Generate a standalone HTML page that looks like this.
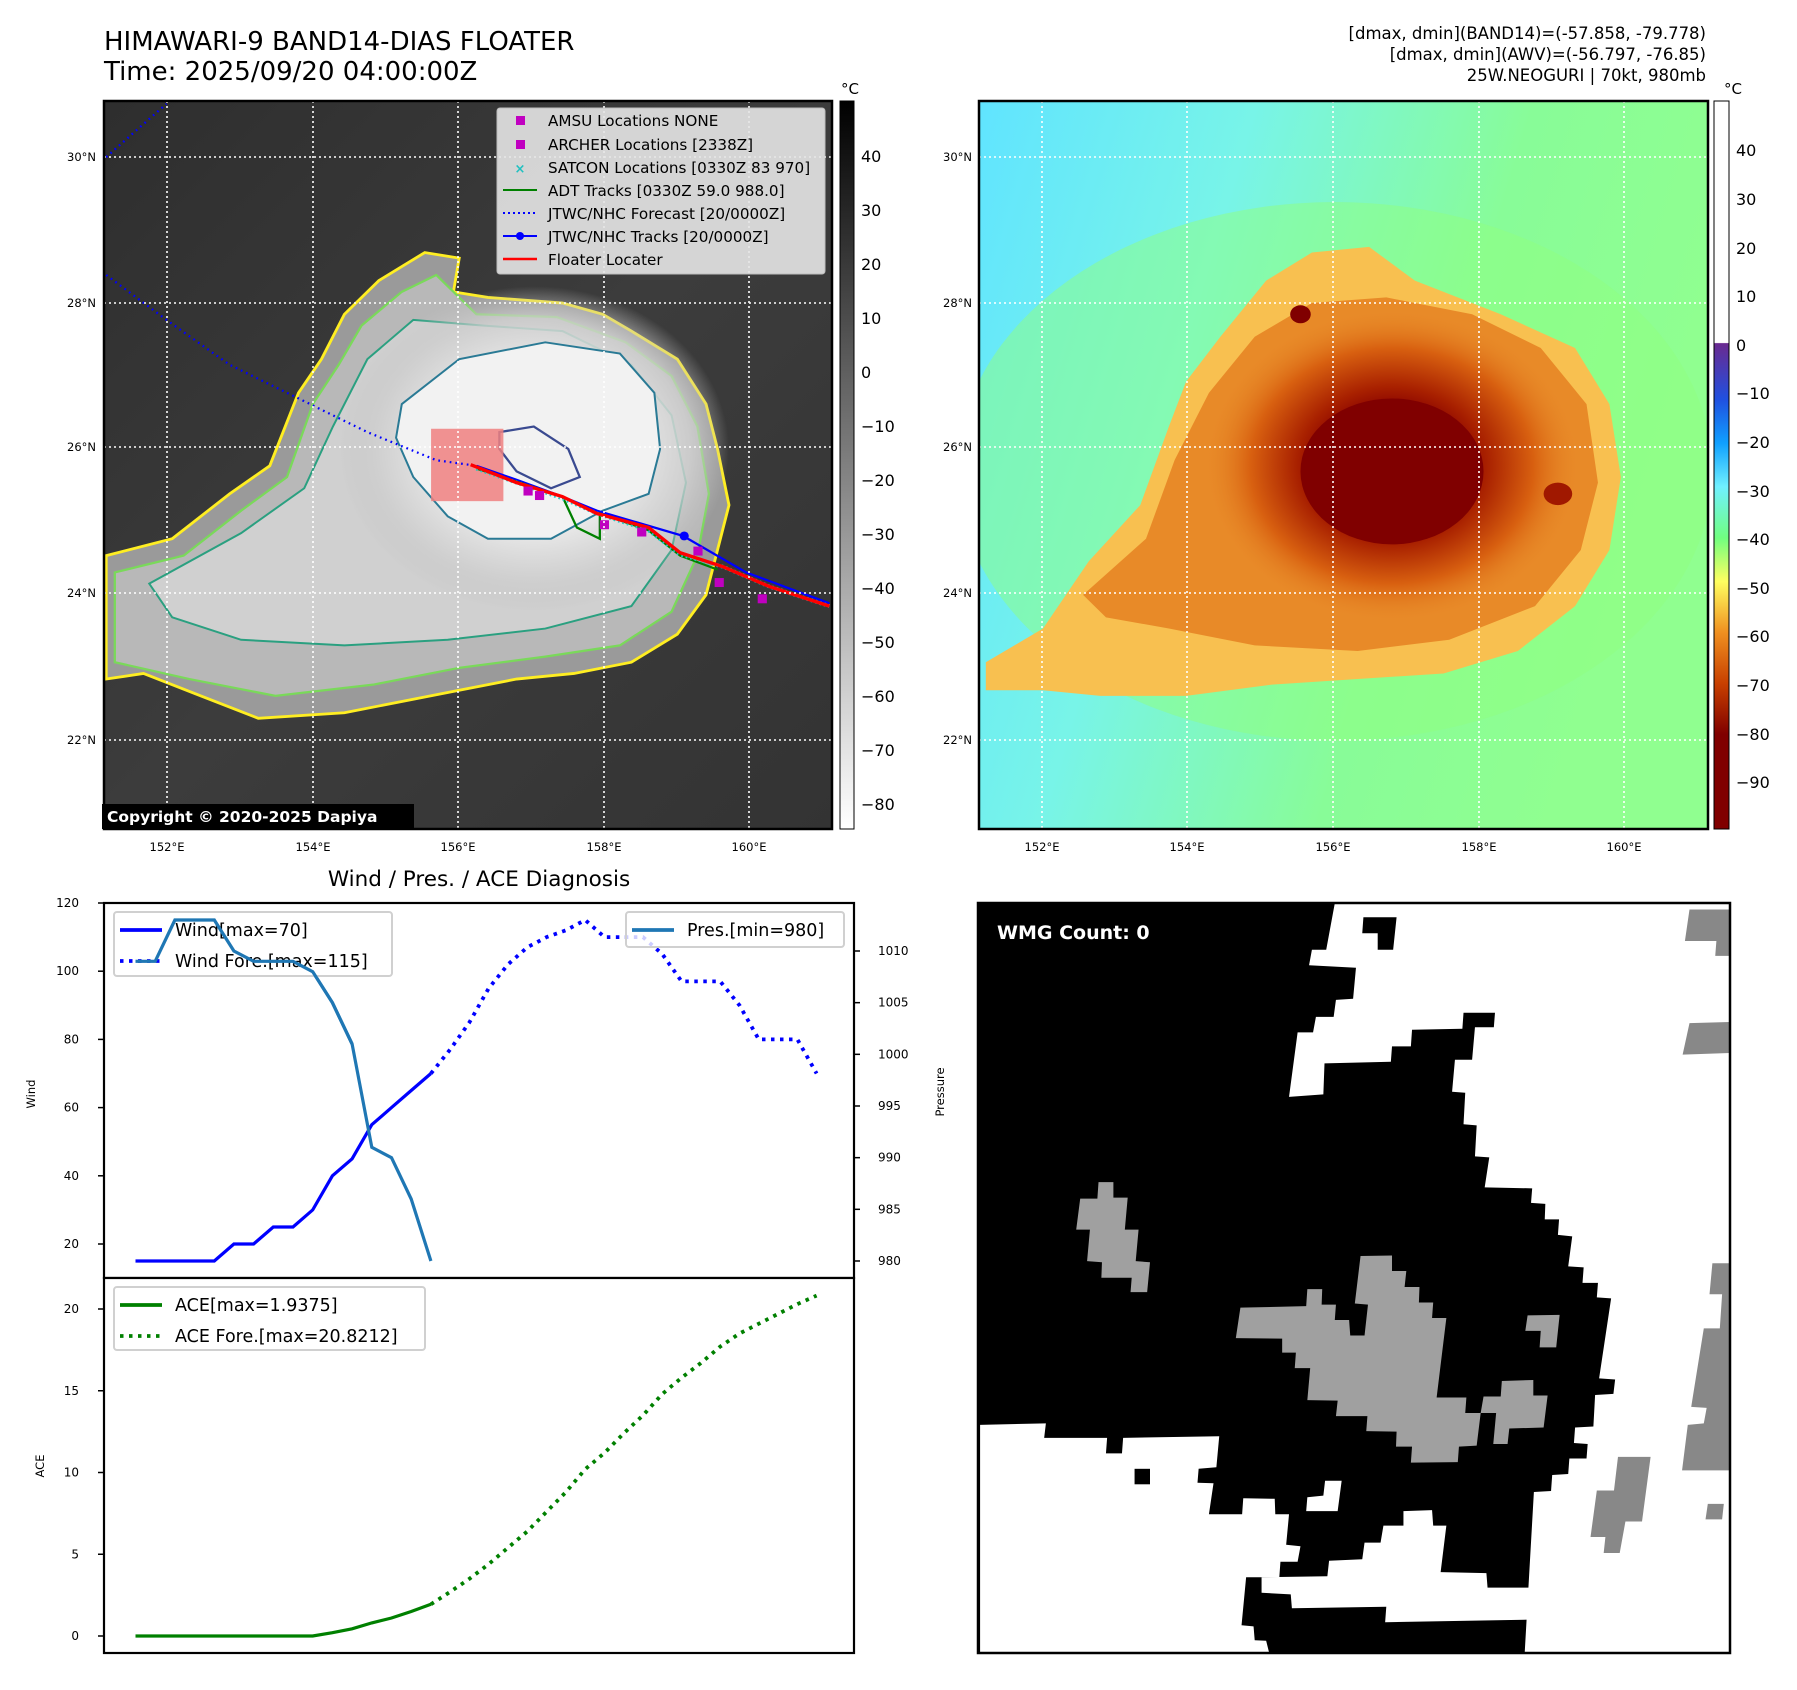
<!DOCTYPE html>
<html><head><meta charset="utf-8">
<style>
html,body{margin:0;padding:0;background:#fff;}
body{width:1797px;height:1690px;position:relative;overflow:hidden;font-family:"Liberation Sans","DejaVu Sans",sans-serif;}
svg{position:absolute;left:0;top:0;}
text{font-family:"DejaVu Sans","Liberation Sans",sans-serif;}
</style></head>
<body>
<svg id="root" width="1797" height="1690" viewBox="0 0 1797 1690">
<defs>
  <radialGradient id="irBlob" cx="0.5" cy="0.5" r="0.5">
    <stop offset="0" stop-color="#f6f6f6"/>
    <stop offset="0.5" stop-color="#eaeaea"/>
    <stop offset="0.8" stop-color="#d0d0d0" stop-opacity="0.8"/>
    <stop offset="1" stop-color="#c0c0c0" stop-opacity="0"/>
  </radialGradient>
  <linearGradient id="irBg" x1="0" y1="0" x2="1" y2="1">
    <stop offset="0" stop-color="#2e2e2e"/>
    <stop offset="0.5" stop-color="#3c3c3c"/>
    <stop offset="1" stop-color="#333"/>
  </linearGradient>
  <linearGradient id="cbGray" x1="0" y1="0" x2="0" y2="1">
    <stop offset="0" stop-color="#000"/>
    <stop offset="1" stop-color="#fff"/>
  </linearGradient>
  <linearGradient id="cbColor" x1="0" y1="0" x2="0" y2="1">
    <stop offset="0" stop-color="#fff"/>
    <stop offset="0.332" stop-color="#fff"/>
    <stop offset="0.333" stop-color="#6a2a90"/>
    <stop offset="0.41" stop-color="#2050e0"/>
    <stop offset="0.47" stop-color="#10a0ff"/>
    <stop offset="0.53" stop-color="#70f0ff"/>
    <stop offset="0.6" stop-color="#70ff80"/>
    <stop offset="0.66" stop-color="#ffff60"/>
    <stop offset="0.73" stop-color="#f09020"/>
    <stop offset="0.8" stop-color="#c84000"/>
    <stop offset="0.87" stop-color="#800000"/>
    <stop offset="1" stop-color="#800000"/>
  </linearGradient>
  <linearGradient id="awvBg" x1="0" y1="0" x2="1" y2="0.3">
    <stop offset="0" stop-color="#60e4ff"/>
    <stop offset="0.35" stop-color="#78f4e8"/>
    <stop offset="0.7" stop-color="#88fc98"/>
    <stop offset="1" stop-color="#90ff90"/>
  </linearGradient>
  <radialGradient id="awvBlob" cx="0.5" cy="0.5" r="0.5">
    <stop offset="0" stop-color="#7a0000"/>
    <stop offset="0.35" stop-color="#860000"/>
    <stop offset="0.5" stop-color="#a82000"/>
    <stop offset="0.75" stop-color="#d86010"/>
    <stop offset="1" stop-color="#e88a28" stop-opacity="0"/>
  </radialGradient>
  <clipPath id="clipL"><rect x="104" y="101" width="728" height="728"/></clipPath>
  <clipPath id="clipR"><rect x="979" y="101" width="729" height="728"/></clipPath>
  <clipPath id="clipW"><rect x="978" y="903" width="752" height="750"/></clipPath>
</defs>

<!-- ===== Titles ===== -->
<text x="104" y="50" font-size="26" fill="#000">HIMAWARI-9 BAND14-DIAS FLOATER</text>
<text x="104" y="80" font-size="26" fill="#000">Time: 2025/09/20 04:00:00Z</text>
<text x="1706" y="39" font-size="16.5" text-anchor="end">[dmax, dmin](BAND14)=(-57.858, -79.778)</text>
<text x="1706" y="60" font-size="16.5" text-anchor="end">[dmax, dmin](AWV)=(-56.797, -76.85)</text>
<text x="1706" y="81" font-size="16.5" text-anchor="end">25W.NEOGURI | 70kt, 980mb</text>

<!-- ===== Left IR map ===== -->
<g clip-path="url(#clipL)">
  <rect x="104" y="101" width="728" height="728" fill="url(#irBg)"/>
  <g transform="scale(0.574,0.5612)">
    <path d="M185,990 L300,960 L400,880 L470,830 L520,700 L560,640 L600,560 L660,500 L740,450 L800,460 L790,520 L850,530 L980,540 L1050,560 L1100,590 L1180,640 L1230,720 L1250,800 L1270,900 L1250,980 L1230,1060 L1180,1130 L1100,1180 L1000,1200 L900,1210 L800,1230 L700,1250 L600,1270 L450,1280 L350,1240 L250,1200 L185,1210 Z" fill="#9a9a9a" stroke="#ffee22" stroke-width="5"/>
    <path d="M200,1020 L320,990 L420,910 L500,850 L545,720 L590,650 L630,580 L700,520 L760,490 L830,560 L970,565 L1090,610 L1170,670 L1215,760 L1235,880 L1215,990 L1170,1090 L1080,1150 L950,1170 L800,1190 L650,1220 L480,1240 L330,1210 L200,1180 Z" fill="#b8b8b8" stroke="#7ad95a" stroke-width="4"/>
    <path d="M260,1040 L420,950 L530,870 L580,760 L640,640 L720,570 L840,580 L980,590 L1100,650 L1170,740 L1195,860 L1170,980 L1100,1080 L950,1120 L780,1140 L600,1150 L420,1140 L300,1100 Z" fill="#d0d0d0" stroke="#2aa080" stroke-width="3.5"/>
    <ellipse cx="930" cy="800" rx="340" ry="290" fill="url(#irBlob)"/>
    <path d="M690,780 L700,720 L800,640 L950,610 L1080,630 L1140,700 L1150,800 L1130,880 L1050,910 L960,960 L850,960 L780,920 L720,850 Z" fill="#f2f2f2" stroke="#2a7a95" stroke-width="3.5"/>
    <path d="M870,770 L930,760 L990,800 L1010,850 L960,870 L900,840 L870,800 Z" fill="none" stroke="#3a4a90" stroke-width="4"/>
    <rect x="751" y="764" width="126" height="129" fill="#f08080" opacity="0.85"/>
    <polyline points="185,280 240,230 290,185" fill="none" stroke="#0000ff" stroke-width="4" stroke-dasharray="3,7"/>
    <polyline points="185,490 290,570 400,650 530,715 640,770 760,820 830,830" fill="none" stroke="#0000ff" stroke-width="4" stroke-dasharray="3,7"/>
    <polyline points="830,830 900,855 980,885 1040,910 1190,955 1300,1020 1445,1075" fill="none" stroke="#0000ff" stroke-width="4"/>
    <circle cx="1192" cy="955" r="8" fill="#0000ff"/>
    <polyline points="830,835 900,858 980,885 1005,940 1045,960 1045,915 1130,945 1185,990 1250,1015" fill="none" stroke="#008000" stroke-width="4"/>
    <polyline points="830,835 900,860 980,888 1040,915 1130,945 1185,988 1260,1010 1340,1045 1445,1080" fill="none" stroke="#20c8c8" stroke-width="7" stroke-dasharray="3,5"/>
    <polyline points="820,828 900,860 980,885 1040,915 1130,940 1185,985 1260,1010 1340,1045 1445,1080" fill="none" stroke="#ff0000" stroke-width="6"/>
    <g fill="#c000c0">
      <rect x="912" y="867" width="16" height="16"/><rect x="932" y="875" width="16" height="16"/>
      <rect x="1045" y="927" width="16" height="16"/><rect x="1110" y="940" width="16" height="16"/>
      <rect x="1208" y="974" width="16" height="16"/><rect x="1245" y="1030" width="16" height="16"/>
      <rect x="1320" y="1059" width="16" height="16"/>
    </g>
  </g>
  <g stroke="#fff" stroke-width="1.6" stroke-dasharray="2,3">
    <line x1="167" y1="101" x2="167" y2="829"/><line x1="313" y1="101" x2="313" y2="829"/>
    <line x1="458" y1="101" x2="458" y2="829"/><line x1="604" y1="101" x2="604" y2="829"/>
    <line x1="749" y1="101" x2="749" y2="829"/>
    <line x1="104" y1="157" x2="832" y2="157"/><line x1="104" y1="303" x2="832" y2="303"/>
    <line x1="104" y1="447" x2="832" y2="447"/><line x1="104" y1="593" x2="832" y2="593"/>
    <line x1="104" y1="740" x2="832" y2="740"/>
  </g>
</g>
<rect x="104" y="101" width="728" height="728" fill="none" stroke="#000" stroke-width="2.5"/>

<!-- legend on IR map -->
<g>
  <rect x="497" y="108" width="328" height="166" rx="3" fill="#e6e6e6" opacity="0.9" stroke="#ccc"/>
  <rect x="516" y="116" width="9" height="9" fill="#c000c0"/>
  <text x="548" y="126" font-size="15.2">AMSU Locations NONE</text>
  <rect x="516" y="140" width="9" height="9" fill="#c000c0"/>
  <text x="548" y="150" font-size="15.2">ARCHER Locations [2338Z]</text>
  <text x="520" y="173" font-size="13" fill="#20c0c0" text-anchor="middle" font-weight="bold">×</text>
  <text x="548" y="173" font-size="15.2">SATCON Locations [0330Z 83 970]</text>
  <line x1="503" y1="190" x2="537" y2="190" stroke="#008000" stroke-width="2"/>
  <text x="548" y="196" font-size="15.2">ADT Tracks [0330Z 59.0 988.0]</text>
  <line x1="503" y1="213" x2="537" y2="213" stroke="#0000ff" stroke-width="2" stroke-dasharray="2,3"/>
  <text x="548" y="219" font-size="15.2">JTWC/NHC Forecast [20/0000Z]</text>
  <line x1="503" y1="236" x2="537" y2="236" stroke="#0000ff" stroke-width="2"/>
  <circle cx="520" cy="236" r="4" fill="#0000ff"/>
  <text x="548" y="242" font-size="15.2">JTWC/NHC Tracks [20/0000Z]</text>
  <line x1="503" y1="259" x2="537" y2="259" stroke="#ff0000" stroke-width="2.5"/>
  <text x="548" y="265" font-size="15.2">Floater Locater</text>
</g>
<rect x="102" y="804" width="312" height="25" fill="#000"/>
<text x="107" y="822" font-size="15.5" font-weight="bold" fill="#fff">Copyright © 2020-2025 Dapiya</text>

<!-- left map ticks -->
<g font-size="11.5" fill="#000">
  <text x="96" y="161" text-anchor="end">30°N</text><text x="96" y="307" text-anchor="end">28°N</text>
  <text x="96" y="451" text-anchor="end">26°N</text><text x="96" y="597" text-anchor="end">24°N</text>
  <text x="96" y="744" text-anchor="end">22°N</text>
  <text x="167" y="851" text-anchor="middle">152°E</text><text x="313" y="851" text-anchor="middle">154°E</text>
  <text x="458" y="851" text-anchor="middle">156°E</text><text x="604" y="851" text-anchor="middle">158°E</text>
  <text x="749" y="851" text-anchor="middle">160°E</text>
</g>
<!-- left colorbar -->
<g>
  <rect x="840" y="101" width="14" height="728" fill="url(#cbGray)" stroke="#000" stroke-width="1"/>
  <text x="850" y="94" font-size="15" text-anchor="middle">°C</text>
  <g font-size="16" fill="#000">
    <text x="861" y="162">40</text><text x="861" y="216">30</text><text x="861" y="270">20</text>
    <text x="861" y="324">10</text><text x="861" y="378">0</text><text x="861" y="432">−10</text>
    <text x="861" y="486">−20</text><text x="861" y="540">−30</text><text x="861" y="594">−40</text>
    <text x="861" y="648">−50</text><text x="861" y="702">−60</text><text x="861" y="756">−70</text>
    <text x="861" y="810">−80</text>
  </g>
</g>

<!-- ===== Right AWV map ===== -->
<g clip-path="url(#clipR)">
  <rect x="979" y="101" width="729" height="728" fill="url(#awvBg)"/>
  <g transform="translate(900,0) scale(0.5721,0.5612)">
    <ellipse cx="760" cy="840" rx="660" ry="480" fill="#90ff80" opacity="0.5"/>
    <path d="M150,1180 L250,1120 L330,1000 L420,900 L470,760 L500,680 L560,600 L640,500 L720,450 L820,440 L900,500 L1050,560 L1180,620 L1240,720 L1260,850 L1240,980 L1180,1080 L1080,1160 L950,1200 L800,1210 L650,1220 L500,1240 L350,1240 L250,1230 L150,1230 Z" fill="#f8c050"/>
    <path d="M320,1060 L430,960 L480,820 L540,700 L620,600 L720,540 L850,530 L1000,560 L1120,620 L1200,720 L1220,860 L1190,980 L1110,1080 L960,1140 L800,1160 L620,1150 L470,1120 L360,1100 Z" fill="#e88a28"/>
    <ellipse cx="860" cy="830" rx="330" ry="280" fill="url(#awvBlob)"/>
    <ellipse cx="860" cy="840" rx="160" ry="130" fill="#800000"/>
    <ellipse cx="700" cy="560" rx="18" ry="16" fill="#800000"/>
    <ellipse cx="1150" cy="880" rx="25" ry="20" fill="#a01800"/>
  </g>
  <g stroke="#fff" stroke-width="1.6" stroke-dasharray="2,3">
    <line x1="1042" y1="101" x2="1042" y2="829"/><line x1="1187" y1="101" x2="1187" y2="829"/>
    <line x1="1333" y1="101" x2="1333" y2="829"/><line x1="1479" y1="101" x2="1479" y2="829"/>
    <line x1="1624" y1="101" x2="1624" y2="829"/>
    <line x1="979" y1="157" x2="1708" y2="157"/><line x1="979" y1="303" x2="1708" y2="303"/>
    <line x1="979" y1="447" x2="1708" y2="447"/><line x1="979" y1="593" x2="1708" y2="593"/>
    <line x1="979" y1="740" x2="1708" y2="740"/>
  </g>
</g>
<rect x="979" y="101" width="729" height="728" fill="none" stroke="#000" stroke-width="2.5"/>
<g font-size="11.5" fill="#000">
  <text x="972" y="161" text-anchor="end">30°N</text><text x="972" y="307" text-anchor="end">28°N</text>
  <text x="972" y="451" text-anchor="end">26°N</text><text x="972" y="597" text-anchor="end">24°N</text>
  <text x="972" y="744" text-anchor="end">22°N</text>
  <text x="1042" y="851" text-anchor="middle">152°E</text><text x="1187" y="851" text-anchor="middle">154°E</text>
  <text x="1333" y="851" text-anchor="middle">156°E</text><text x="1479" y="851" text-anchor="middle">158°E</text>
  <text x="1624" y="851" text-anchor="middle">160°E</text>
</g>
<g>
  <rect x="1714" y="101" width="15" height="728" fill="url(#cbColor)" stroke="#000" stroke-width="1"/>
  <text x="1733" y="94" font-size="15" text-anchor="middle">°C</text>
  <g font-size="16" fill="#000">
    <text x="1736" y="156">40</text><text x="1736" y="205">30</text><text x="1736" y="254">20</text>
    <text x="1736" y="302">10</text><text x="1736" y="351">0</text><text x="1736" y="399">−10</text>
    <text x="1736" y="448">−20</text><text x="1736" y="497">−30</text><text x="1736" y="545">−40</text>
    <text x="1736" y="594">−50</text><text x="1736" y="642">−60</text><text x="1736" y="691">−70</text>
    <text x="1736" y="740">−80</text><text x="1736" y="788">−90</text>
  </g>
</g>

<!-- ===== WMG panel ===== -->
<g clip-path="url(#clipW)">
  <rect x="978" y="903" width="752" height="750" fill="#000"/>
  <g transform="translate(900,880) scale(0.5721,0.5165)">
    <polygon fill="#fff" points="760,45 1450,45 1450,1495 1092,1495 1108,1185 1138,1183 1140,1152 1168,1150 1170,1120 1200,1120 1202,1092 1178,1090 1180,1060 1212,1058 1215,997 1247,995 1250,967 1222,965 1243,810 1218,808 1220,780 1193,780 1195,750 1168,748 1175,690 1150,687 1152,657 1127,657 1128,627 1103,625 1105,597 1022,595 1030,537 1005,535 1008,475 985,473 988,412 965,410 970,348 1000,348 1005,285 1038,285 1040,257 985,257 983,288 895,290 893,322 860,322 858,352 742,355 740,415 680,420 695,295 722,295 727,265 758,265 762,232 792,230 797,170 715,165 720,135 745,135"/>
    <polygon fill="#000" points="810,72 868,72 862,135 835,135 835,103 808,103"/>
    <polygon fill="#fff" points="140,1055 255,1052 252,1080 362,1080 360,1110 388,1110 390,1080 558,1077 553,1137 522,1140 520,1167 548,1168 540,1228 598,1228 600,1197 655,1198 656,1228 680,1228 675,1287 700,1290 695,1320 665,1320 663,1350 605,1350 597,1443 618,1445 620,1472 640,1473 645,1495 140,1495"/>
    <polygon fill="#fff" points="632,1350 747,1348 750,1318 808,1315 812,1283 840,1283 845,1250 880,1250 880,1222 930,1220 932,1250 955,1250 945,1340 1025,1342 1027,1370 1055,1370 1100,1370 1100,1432 848,1437 850,1407 685,1410 683,1383 632,1380"/>
    <polygon fill="#000" points="410,1140 437,1140 437,1170 410,1170"/>
    <polygon fill="#fff" points="712,1195 740,1192 743,1163 772,1163 765,1222 710,1222"/>
    <g fill="#a0a0a0">
      <polygon points="347,585 373,585 373,615 398,615 393,677 417,677 412,738 437,740 432,798 403,798 405,770 352,770 353,740 327,738 332,677 308,677 315,617 345,617"/>
      <polygon points="595,828 710,825 712,792 738,792 737,822 762,822 760,852 785,852 787,882 812,882 818,822 795,820 805,728 860,727 860,757 885,757 882,788 908,788 907,818 932,818 930,848 955,848 938,1002 990,1002 988,1032 1015,1032 1008,1095 977,1097 975,1127 893,1128 895,1097 867,1097 868,1068 815,1067 817,1038 762,1038 765,1008 712,1007 717,945 690,945 692,915 668,915 668,888 587,887"/>
      <polygon points="1020,1000 1050,1000 1052,970 1107,968 1107,998 1132,998 1125,1060 1065,1062 1062,1092 1037,1092 1042,1032 1015,1032"/>
      <polygon points="1097,843 1153,842 1147,905 1118,905 1120,873 1093,873"/>
    </g>
    <g fill="#888">
      <polygon points="1380,57 1450,57 1450,147 1425,147 1427,118 1372,118"/>
      <polygon points="1380,277 1450,275 1450,335 1368,338"/>
      <polygon points="1420,742 1450,742 1450,1143 1367,1143 1377,1055 1405,1052 1410,1022 1383,1020 1405,868 1433,868 1437,802 1415,802"/>
      <polygon points="1255,1117 1312,1117 1297,1242 1268,1242 1258,1303 1230,1303 1233,1272 1207,1272 1218,1182 1248,1182"/>
      <polygon points="1412,1208 1440,1208 1437,1238 1408,1238"/>
    </g>
  </g>
</g>
<rect x="978" y="903" width="752" height="750" fill="none" stroke="#000" stroke-width="2.5"/>
<text x="997" y="939" font-size="19" font-weight="bold" fill="#fff">WMG Count: 0</text>

<!-- ===== Diagnosis chart ===== -->
<text x="479" y="886" font-size="21.5" text-anchor="middle">Wind / Pres. / ACE Diagnosis</text>
<g id="chart"></g>
</svg>

<script>
// ---- data ----
const windObs = [15,15,15,15,15,20,20,25,25,30,40,45,55,60,65,70];
const windFore = [70,77,85,95,102,107,110,112,115,110,110,110,105,97,97,97,90,80,80,80,70];
const presObs = [1009,1009,1013,1013,1013,1010,1009,1009,1009,1008,1005,1001,991,990,986,980];
const aceObs = [0,0,0,0,0,0,0,0,0,0,0.2,0.44,0.8,1.1,1.5,1.9375];
const aceFore = [1.9375,2.7,3.5,4.4,5.4,6.4,7.6,8.8,10.2,11.2,12.4,13.5,14.8,15.8,16.7,17.7,18.5,19.1,19.7,20.3,20.8212];
const windTicks = [20,40,60,80,100,120];
const presTicks = [980,985,990,995,1000,1005,1010];
const aceTicks = [0,5,10,15,20];

// ---- axes ----
const X0 = 135.5, STEP_OBS = 19.69, STEP_FORE = 19.29;
function xObs(i){ return X0 + i*STEP_OBS; }
function xFore(k){ return xObs(windObs.length-1) + k*STEP_FORE; }
function yWind(v){ return 903 + (120 - v)*3.41; }
function yPres(p){ return 951 + (1010 - p)*10.333; }
function yAce(a){ return 1636 - a*16.35; }

const NS = 'http://www.w3.org/2000/svg';
const chart = document.getElementById('chart');
function mk(tag, attrs, parent){
  const e = document.createElementNS(NS, tag);
  for (const k in attrs) e.setAttribute(k, attrs[k]);
  (parent||chart).appendChild(e);
  return e;
}
function pts(arr, fx, fy){ return arr.map((v,i)=>fx(i).toFixed(1)+','+fy(v).toFixed(1)).join(' '); }

let f1 = mk('rect',{x:104,y:903,width:750,height:375,fill:'#fff',stroke:'#000','stroke-width':2.2});


let f2 = mk('rect',{x:104,y:1278,width:750,height:375,fill:'#fff',stroke:'#000','stroke-width':2.2});



windTicks.forEach(t=>{
  const y = yWind(t);
  const l = mk('line',{x1:98,y1:y,x2:104,y2:y,stroke:'#000','stroke-width':1.5});
  
  
  const tx = mk('text',{x:79,y:y+4,'font-size':12,'text-anchor':'end'});
  tx.textContent = t;
  
  
});
presTicks.forEach(t=>{
  const y = yPres(t);
  const l = mk('line',{x1:854,y1:y,x2:860,y2:y,stroke:'#000','stroke-width':1.5});
  
  
  const tx = mk('text',{x:878,y:y+4,'font-size':12});
  tx.textContent = t;
  
  
});
aceTicks.forEach(t=>{
  const y = yAce(t);
  const l = mk('line',{x1:98,y1:y,x2:104,y2:y,stroke:'#000','stroke-width':1.5});
  
  
  const tx = mk('text',{x:79,y:y+4,'font-size':12,'text-anchor':'end'});
  tx.textContent = t;
  
  
});
let yl1 = mk('text',{x:0,y:0,'font-size':11.5,'text-anchor':'middle',transform:'translate(35,1094) rotate(-90)'});
yl1.textContent='Wind';


let yl2 = mk('text',{x:0,y:0,'font-size':11.5,'text-anchor':'middle',transform:'translate(944,1092) rotate(-90)'});
yl2.textContent='Pressure';


let yl3 = mk('text',{x:0,y:0,'font-size':11.5,'text-anchor':'middle',transform:'translate(44,1466) rotate(-90)'});
yl3.textContent='ACE';



let wl = mk('polyline',{points:pts(windObs,xObs,yWind),fill:'none',stroke:'#0000ff','stroke-width':3.2});


let wf = mk('polyline',{points:pts(windFore,xFore,yWind),fill:'none',stroke:'#0000ff','stroke-width':3.8,'stroke-dasharray':'3.5,5.5'});


let pl = mk('polyline',{points:pts(presObs,xObs,yPres),fill:'none',stroke:'#1f77b4','stroke-width':3.2});


let al = mk('polyline',{points:pts(aceObs,xObs,yAce),fill:'none',stroke:'#008000','stroke-width':3.2});


let af = mk('polyline',{points:pts(aceFore,xFore,yAce),fill:'none',stroke:'#008000','stroke-width':3.8,'stroke-dasharray':'3.5,5.5'});



function legend(name,x,y,w,h,items){
  const g = mk('g',{});
  
  
  mk('rect',{x:x,y:y,width:w,height:h,rx:3,fill:'#fff','fill-opacity':0.8,stroke:'#d0d0d0','stroke-width':2},g);
  items.forEach((it,i)=>{
    const cy = y+18+i*31;
    mk('line',{x1:x+6,y1:cy,x2:x+48,y2:cy,stroke:it.c,'stroke-width':3.8,'stroke-dasharray':it.d||'none'},g);
    const t = mk('text',{x:x+61,y:cy+6,'font-size':17.5},g);
    t.textContent = it.t;
  });
}
legend('wind-legend',114,912,278,64,[{c:'#0000ff',t:'Wind[max=70]'},{c:'#0000ff',t:'Wind Fore.[max=115]',d:'3.5,5.5'}]);
legend('pressure-legend',626,912,218,35,[{c:'#1f77b4',t:'Pres.[min=980]'}]);
legend('ace-legend',114,1287,311,63,[{c:'#008000',t:'ACE[max=1.9375]'},{c:'#008000',t:'ACE Fore.[max=20.8212]',d:'3.5,5.5'}]);
let pl2 = mk('polyline',{points:pts(presObs.slice(0,12),xObs,yPres),fill:'none',stroke:'#1f77b4','stroke-width':3.2});


</script>
</body></html>
